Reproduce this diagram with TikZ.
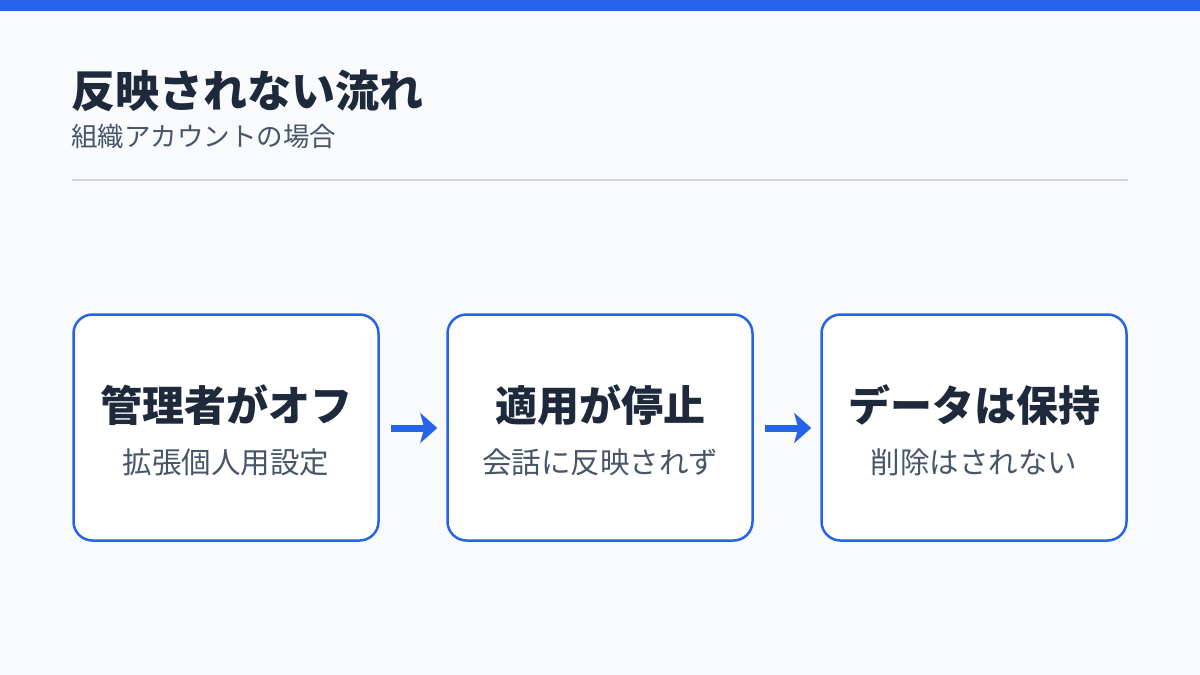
\documentclass[tikz,border=0pt]{standalone}
\usepackage{fontspec}
\setmainfont{Noto Sans CJK JP}
\usetikzlibrary{arrows.meta}
\definecolor{bg}{HTML}{F8FAFC}
\definecolor{accent}{HTML}{2563EB}
\definecolor{dark}{HTML}{1E293B}
\definecolor{muted}{HTML}{475569}
\definecolor{rulec}{HTML}{CBD5E1}
\tikzset{
  stepbox/.style={draw=accent, line width=2.5pt, fill=white, rounded corners=19pt, minimum width=305pt, minimum height=226pt, inner sep=0pt},
  maintext/.style={text=dark, font=\fontsize{42}{50}\selectfont\bfseries, inner sep=0pt},
  subtext/.style={text=muted, font=\fontsize{29.5}{35}\selectfont, inner sep=0pt},
  flow/.style={draw=accent, line width=7pt, -{Stealth[length=17pt,width=30pt,inset=4pt]}, shorten >=9pt, shorten <=11pt},
}
\begin{document}
\begin{tikzpicture}[x=1pt,y=-1pt]
\useasboundingbox (0,0) rectangle (1200,675);
\fill[bg] (0,0) rectangle (1200,675);
\fill[accent] (0,0) rectangle (1200,11);
\node[anchor=west, text=dark, font=\fontsize{44}{52}\selectfont\bfseries, inner sep=0pt] (title) at (71,91) {反映されない流れ};
\node[anchor=west, text=muted, font=\fontsize{26.5}{32}\selectfont, inner sep=0pt] (subtitle) at (71,137) {組織アカウントの場合};
\draw[rulec, line width=1.5pt] (72,180) -- (1128,180);
\node[stepbox] (b1) at (226,427.5) {};
\node[stepbox] (b2) at (600,427.5) {};
\node[stepbox] (b3) at (974,427.5) {};
\node[maintext] (m1) at (226,405) {管理者がオフ};
\node[subtext] (s1) at (226,462) {拡張個人用設定};
\node[maintext] (m2) at (600,405) {適用が停止};
\node[subtext] (s2) at (600,462) {会話に反映されず};
\node[maintext] (m3) at (974,405) {データは保持};
\node[subtext] (s3) at (974,462) {削除はされない};
\draw[flow] (b1.east |- 0,428) -- (b2.west |- 0,428);
\draw[flow] (b2.east |- 0,428) -- (b3.west |- 0,428);
\end{tikzpicture}
\end{document}
